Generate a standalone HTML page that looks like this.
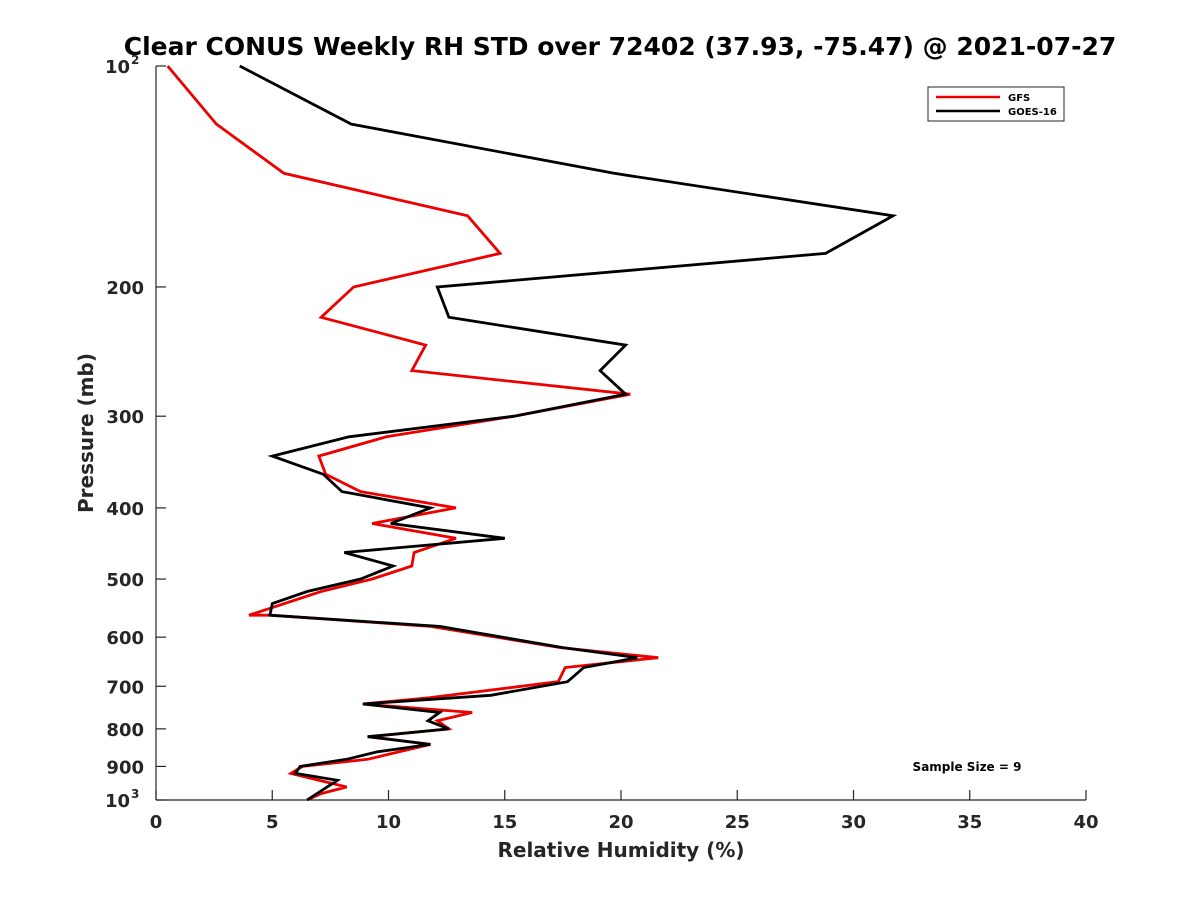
<!DOCTYPE html>
<html><head><meta charset="utf-8"><style>
body{margin:0;background:#fff}
svg text{font-family:"DejaVu Sans","Liberation Sans",sans-serif;font-weight:bold;fill:#262626}
</style></head><body>
<svg id="chart" width="1200" height="900" xmlns="http://www.w3.org/2000/svg">
<rect width="1200" height="900" fill="#fff"/>
<text x="620" y="55" font-size="25" text-anchor="middle" style="fill:#000">Clear CONUS Weekly RH STD over 72402 (37.93, -75.47) @ 2021-07-27</text>
<g id="axes"></g>
<g id="series"></g>
<text x="621" y="857" font-size="20" text-anchor="middle">Relative Humidity (%)</text>
<text transform="translate(93,433) rotate(-90)" font-size="20" text-anchor="middle">Pressure (mb)</text>
<text x="967" y="771" font-size="12" text-anchor="middle" style="fill:#000">Sample Size = 9</text>
<g>
<rect x="928" y="87" width="136" height="34" fill="#fff" stroke="#262626" stroke-width="1"/>
<line x1="936" y1="97" x2="1000" y2="97" stroke="#e00" stroke-width="2.5"/>
<text x="1008" y="101" font-size="10" style="fill:#000">GFS</text>
<line x1="936" y1="111" x2="1000" y2="111" stroke="#000" stroke-width="2.5"/>
<text x="1008" y="115" font-size="10" style="fill:#000">GOES-16</text>
</g>
</svg>
<script>
const xTicks=[0,5,10,15,20,25,30,35,40];
const yTicks=[100,200,300,400,500,600,700,800,900,1000];
const goesP=[100,120,140,160,180,200,220,240,260,280,300,320,340,360,380,400,420,440,460,480,500,520,540,560,580,620,640,660,690,720,740,760,780,800,820,840,860,880,900,920,940,1000];
const goesRH=[3.6,8.4,19.7,31.7,28.8,12.1,12.6,20.2,19.1,20.2,15.4,8.3,5.0,7.2,8.0,11.8,10.1,15.0,8.1,10.2,8.8,6.5,5.0,4.9,12.2,17.5,20.7,18.4,17.7,14.4,8.9,12.2,11.7,12.6,9.1,11.8,9.5,8.2,6.2,6.0,7.8,6.5];
const gfsP=[100,120,140,160,180,200,220,240,260,280,300,320,340,360,380,400,420,440,460,480,500,520,560,560,580,620,640,660,690,726,740,760,780,800,820,840,880,900,920,960,980,1000];
const gfsRH=[0.5,2.6,5.5,13.4,14.8,8.5,7.1,11.6,11.0,20.4,15.4,9.9,7.0,7.3,8.8,12.9,9.3,12.9,11.1,11.0,9.3,7.1,4.0,4.9,11.8,17.4,21.6,17.6,17.3,11.7,8.9,13.6,12.1,12.6,9.2,11.8,9.1,6.3,5.8,8.2,7.1,6.5];
const X0=156,X1=1086,Y0=66,Y1=800;
const sx=v=>X0+(v/40)*(X1-X0);
const sy=p=>Y0+Math.log10(p/100)*(Y1-Y0);
const NS="http://www.w3.org/2000/svg";
const axes=document.getElementById('axes');
function mk(tag,attrs,parent){const e=document.createElementNS(NS,tag);for(const k in attrs)e.setAttribute(k,attrs[k]);parent.appendChild(e);return e;}
let l=mk('line',{x1:X0,y1:Y0,x2:X0,y2:Y1,stroke:'#262626','stroke-width':1.2},axes);


l=mk('line',{x1:X0,y1:Y1,x2:X1,y2:Y1,stroke:'#262626','stroke-width':1.2},axes);


xTicks.forEach(v=>{
 const x=sx(v);
 const t=mk('line',{x1:x,y1:Y1,x2:x,y2:Y1-10,stroke:'#262626','stroke-width':1.2},axes);
 
 
 const tx=mk('text',{x:x,y:Y1+28,'font-size':18,'text-anchor':'middle'},axes);
 tx.textContent=v;
 
 
});
yTicks.forEach(p=>{
 const y=sy(p);
 const t=mk('line',{x1:X0,y1:y,x2:X0+10,y2:y,stroke:'#262626','stroke-width':1.2},axes);
 
 
 const tx=mk('text',{x:X0-12,y:y+7,'font-size':18,'text-anchor':'end'},axes);
 
 
 if(p===100||p===1000){
  tx.setAttribute('x',X0-26);
  tx.textContent='10';
  const sup=mk('text',{x:X0-25,y:y-2,'font-size':12,'text-anchor':'start'},axes);
  sup.textContent=p===100?'2':'3';
  
  
 } else tx.textContent=p;
});
const ser=document.getElementById('series');
function line(P,RH,color,name){
 const pts=P.map((p,i)=>sx(RH[i]).toFixed(1)+','+sy(p).toFixed(1)).join(' ');
 const pl=mk('polyline',{points:pts,fill:'none',stroke:color,'stroke-width':2.8,'stroke-linejoin':'miter'},ser);
 
 
}
line(gfsP,gfsRH,'#e00','gfs-line');
line(goesP,goesRH,'#000','goes16-line');
</script>
</body></html>
